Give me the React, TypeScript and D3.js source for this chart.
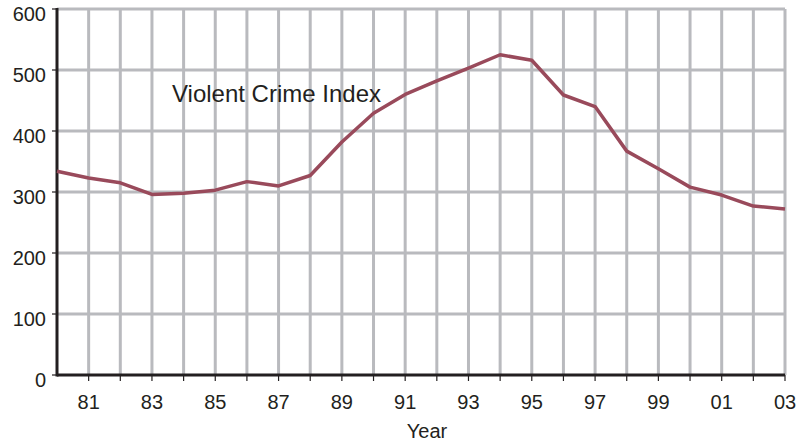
import React, { useEffect, useRef } from 'react';
import * as d3 from 'd3';

const years = d3.range(1980, 2004);
const crimeIndex = [334, 323, 315, 296, 298, 303, 317, 310, 327, 382, 429, 460, 482, 503, 525, 516, 459, 440, 367, 338, 308, 295, 277, 272];
const yTicks = [0, 100, 200, 300, 400, 500, 600];
const xLabelYears = [1981, 1983, 1985, 1987, 1989, 1991, 1993, 1995, 1997, 1999, 2001, 2003];
const seriesLabel = 'Violent Crime Index';

const App = () => {
  const ref = useRef<SVGSVGElement>(null);

  useEffect(() => {
    const svg = d3.select(ref.current);
    svg.selectAll('*').remove();

    const width = 806, height = 443;
    const m = { left: 57, right: 21, top: 9, bottom: 68 };

    const x = d3.scaleLinear().domain([1980, 2003]).range([m.left, width - m.right]);
    const y = d3.scaleLinear().domain([0, 600]).range([height - m.bottom, m.top]);

    const g = svg.append('g');

    // grid
    g.selectAll('.vgrid')
      .data(years.slice(1))
      .enter().append('line')
      .attr('x1', d => x(d)).attr('x2', d => x(d))
      .attr('y1', y(600)).attr('y2', y(0))
      .attr('stroke', '#b9babe')
      .attr('stroke-width', 3);

    g.selectAll('.hgrid')
      .data(yTicks.slice(1))
      .enter().append('line')
      .attr('x1', x(1980)).attr('x2', x(2003))
      .attr('y1', d => y(d)).attr('y2', d => y(d))
      .attr('stroke', '#b9babe')
      .attr('stroke-width', 3);

    // x ticks
    g.selectAll('.xtick')
      .data(years.slice(1))
      .enter().append('line')
      .attr('x1', d => x(d)).attr('x2', d => x(d))
      .attr('y1', y(0)).attr('y2', y(0) + 6)
      .attr('stroke', '#231f20')
      .attr('stroke-width', 1.2);

    // y ticks
    g.selectAll('.ytick')
      .data(yTicks)
      .enter().append('line')
      .attr('x1', x(1980) - 5).attr('x2', x(1980))
      .attr('y1', d => y(d)).attr('y2', d => y(d))
      .attr('stroke', '#231f20')
      .attr('stroke-width', 1.2);

    // axes
    g.append('line')
      .attr('x1', x(1980)).attr('x2', x(2003))
      .attr('y1', y(0)).attr('y2', y(0))
      .attr('stroke', '#231f20').attr('stroke-width', 3);
    g.append('line')
      .attr('x1', x(1980)).attr('x2', x(1980))
      .attr('y1', y(600) - 1).attr('y2', y(0) + 1.5)
      .attr('stroke', '#231f20').attr('stroke-width', 3);

    const font = 'Liberation Sans, Arial, Helvetica, sans-serif';

    g.selectAll('.ylab')
      .data(yTicks)
      .enter().append('text')
      .attr('x', x(1980) - 11)
      .attr('y', d => y(d) + 11.5)
      .attr('text-anchor', 'end')
      .attr('font-family', font)
      .attr('font-size', 20)
      .attr('fill', '#231f20')
      .text(d => d);

    g.selectAll('.xlab')
      .data(xLabelYears)
      .enter().append('text')
      .attr('x', d => x(d))
      .attr('y', y(0) + 34)
      .attr('text-anchor', 'middle')
      .attr('font-family', font)
      .attr('font-size', 20)
      .attr('fill', '#231f20')
      .text(d => String(d % 100).padStart(2, '0'));

    g.append('text')
      .attr('x', 427)
      .attr('y', 438)
      .attr('text-anchor', 'middle')
      .attr('font-family', font)
      .attr('font-size', 20)
      .attr('fill', '#231f20')
      .text('Year');

    g.append('text')
      .attr('x', 172)
      .attr('y', 102)
      .attr('font-family', font)
      .attr('font-size', 24)
      .attr('fill', '#231f20')
      .text(seriesLabel);

    const line = d3.line<number>()
      .x((d, i) => x(years[i]))
      .y(d => y(d));

    g.append('path')
      .datum(crimeIndex)
      .attr('d', line)
      .attr('fill', 'none')
      .attr('stroke', '#994a5b')
      .attr('stroke-width', 3.5)
      .attr('stroke-linejoin', 'round');
  }, []);

  return <svg ref={ref} width={806} height={443} style={{ position: 'absolute', left: 0, top: 0, background: '#fff' }}></svg>;
};

export default App;
